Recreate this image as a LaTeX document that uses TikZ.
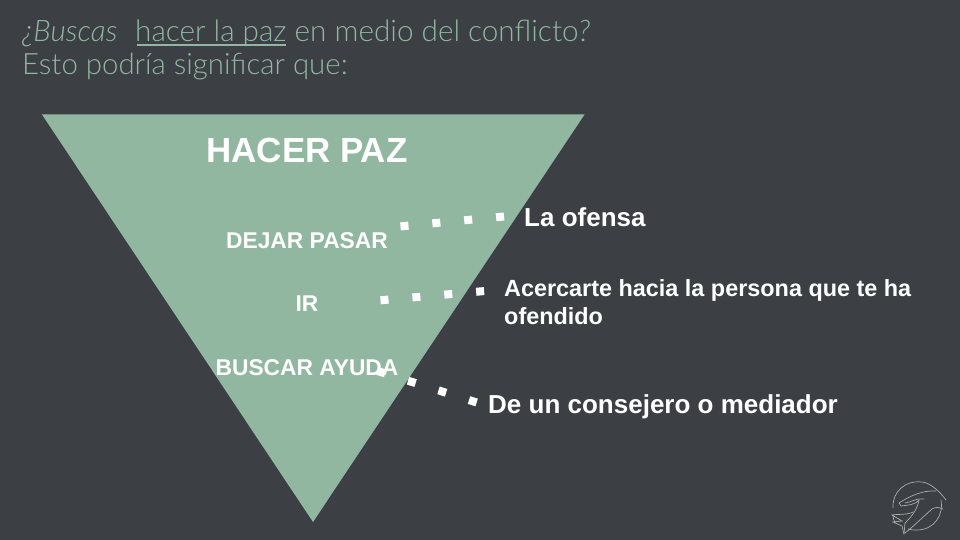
\documentclass[tikz,border=0pt]{standalone}
\usepackage{fontspec}
\usepackage{xcolor}
\setmainfont{Lato Light}[ItalicFont={Lato Light Italic}]
\newfontfamily\labelfont{Liberation Sans}
\definecolor{slate}{HTML}{3C3F44}
\definecolor{sage}{HTML}{92B7A1}
\definecolor{logogray}{HTML}{A9AFAD}
\tikzset{
  titletext/.style={anchor=base west,inner sep=0pt,text=sage,font=\fontsize{29.7}{33}\selectfont},
  inside/.style={anchor=base,inner sep=0pt,text=white},
  outside/.style={anchor=base west,inner sep=0pt,text=white,align=left},
  squares/.style={white,line width=8pt,dash pattern=on 8pt off 24pt},
  logoline/.style={logogray,line width=0.7pt,line cap=round}
}
\begin{document}
\begin{tikzpicture}[x=1pt,y=-1pt]
  \useasboundingbox (0,0) rectangle (960,540);
  \fill[slate] (0,0) rectangle (960,540);
  % triangle
  \coordinate (TL) at (42,114.5);
  \coordinate (TR) at (584.5,114.5);
  \coordinate (TB) at (313,522);
  \fill[sage] (TL) -- (TR) -- (TB) -- cycle;
  % title
  \node[titletext] (title1) at (22,41.7) {{\itshape ¿Buscas}\hspace{0.6em}hacer la paz en medio del conflicto{\itshape ?}};
  \node[titletext,font=\fontsize{29.4}{33}\selectfont] (title2) at (22,74.7) {Esto podría significar que:};
  \coordinate (u1) at (137,44.7);
  \coordinate (u2) at (286,44.7);
  \draw[sage,line width=2pt] (u1) -- (u2);
  % labels
  \node[inside,font=\labelfont\bfseries\fontsize{34.9}{38}\selectfont] (hacer) at (307,163) {HACER PAZ};
  \node[inside,font=\labelfont\bfseries\fontsize{22.8}{25}\selectfont] (dejar) at (307,248) {DEJAR PASAR};
  \node[inside,font=\labelfont\bfseries\fontsize{22.8}{25}\selectfont] (ir) at (307,311) {IR};
  \node[inside,font=\labelfont\bfseries\fontsize{22.8}{25}\selectfont] (buscar) at (307,375) {BUSCAR AYUDA};
  \node[outside,font=\labelfont\bfseries\fontsize{26}{30}\selectfont] (ofensa) at (524,226) {La ofensa};
  \node[outside,font=\labelfont\bfseries\fontsize{23.4}{28}\selectfont] (acercarte) at (504,324) {Acercarte hacia la persona que te ha\\ofendido};
  \node[outside,font=\labelfont\bfseries\fontsize{26}{30}\selectfont] (consejero) at (488,413) {De un consejero o mediador};
  % dotted connectors
  \coordinate (d1) at (400.5,226.4);
  \coordinate (d2) at (505,216.4);
  \coordinate (i1) at (380.5,300.3);
  \coordinate (i2) at (485,291);
  \coordinate (b1) at (377.5,371);
  \coordinate (b2) at (477,402.6);
  \draw[squares] (d1) -- (d2);
  \draw[squares] (i1) -- (i2);
  \draw[squares] (b1) -- (b2);
  % logo
  \draw[logoline] (893,508) .. controls (892,492) and (905,480) .. (922,482) .. controls (931,483) and (940,492) .. (946,500);
  \draw[logoline] (893,515) .. controls (893,518) and (894,521) .. (895,523);
  \draw[logoline] (941,500) .. controls (944,515) and (934,530) .. (917,530) .. controls (914,530) and (911,530) .. (908,529);
  \draw[logoline] (899,503) .. controls (908,497) and (922,490) .. (936,491);
  \draw[logoline] (899,503) -- (901,506) .. controls (908,505) and (915,505) .. (919,500);
  \draw[logoline] (905,503) .. controls (911,502) and (916,499) .. (919,499) -- (924,499);
  \draw[logoline] (919,500) .. controls (917,511) and (910,518) .. (905,523) -- (904,534);
  \draw[logoline] (904,534) -- (902,526) -- (893,522) -- (902,521) -- (892,515) .. controls (898,514) and (908,515) .. (913,512);
  \draw[logoline] (905,533) .. controls (915,525) and (924,516) .. (932,509) .. controls (935,507) and (939,507) .. (943,509);
\end{tikzpicture}
\end{document}
